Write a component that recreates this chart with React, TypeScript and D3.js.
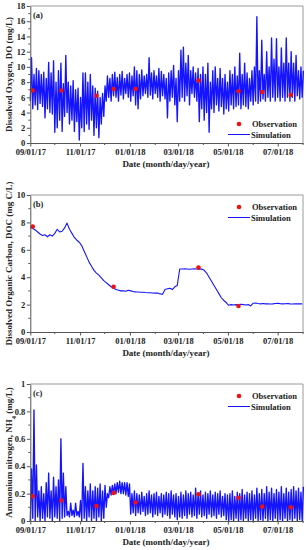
import { useEffect, useRef } from 'react';
import * as d3 from 'd3';

const START = Date.UTC(2017, 8, 1);
const END = Date.UTC(2018, 7, 1);
const DAY = 86400000;

// simulation sampled every 3 days (low / high of the hourly output)
const simDays = d3.range(0, 334, 3);

const doLow = [5.5, 4.5, 5.0, 4.4, 5.2, 4.8, 3.3, 4.5, 4.0, 3.8, 1.4, 2.0, 3.0, 1.5, 3.5, 4.0, 2.5, 3.0, 1.5, 2.8,
    0.4, 2.0, 1.5, 2.5, 1.8, 3.0, 1.0, 2.0, 0.7, 2.5, 3.5, 5.5, 6.0, 5.5, 6.2, 6.0, 5.5, 6.3, 5.8, 6.5,
    6.0, 5.5, 6.2, 5.0, 4.5, 5.8, 6.2, 6.5, 6.0, 6.3, 5.8, 6.5, 6.0, 5.5, 6.2, 5.8, 3.3, 5.5, 6.0, 5.0,
    2.8, 5.5, 6.0, 5.5, 6.2, 5.0, 6.5, 6.0, 5.5, 2.8, 4.5, 3.0, 4.0, 1.4, 4.5, 4.0, 5.0, 4.2, 4.8, 3.8,
    4.5, 4.2, 5.0, 4.5, 4.8, 5.0, 4.5, 5.0, 4.8, 4.5, 5.5, 5.0, 5.5, 5.2, 5.5, 5.8, 5.5, 6.0, 5.5, 6.0,
    5.5, 6.0, 5.5, 6.0, 5.5, 6.0, 5.5, 6.0, 5.5, 6.2, 5.8, 6.0];
const doHigh = [11.2, 9.0, 9.8, 9.5, 9.0, 9.3, 8.5, 10.6, 9.2, 10.8, 8.0, 9.5, 10.5, 7.8, 11.5, 8.0, 7.5, 8.2, 7.0, 7.2,
    6.0, 9.2, 9.2, 8.0, 9.0, 7.5, 7.2, 6.8, 6.0, 6.5, 7.5, 8.8, 8.5, 9.0, 9.3, 8.6, 9.0, 9.4, 8.5, 9.0,
    9.2, 8.8, 10.0, 9.5, 9.0, 9.6, 8.8, 9.0, 11.2, 9.2, 9.5, 8.8, 9.8, 9.4, 9.0, 8.5, 9.2, 9.5, 10.2, 8.5,
    9.5, 12.2, 12.6, 10.5, 11.5, 9.5, 10.0, 9.2, 9.8, 9.0, 10.0, 9.0, 10.5, 8.0, 9.5, 10.0, 8.5, 9.8, 8.5, 9.0,
    8.0, 9.5, 9.0, 10.0, 8.8, 11.8, 9.0, 10.5, 9.2, 8.5, 9.5, 10.0, 16.6, 9.5, 13.5, 9.0, 12.0, 10.0, 13.8, 11.0,
    13.7, 10.0, 12.5, 10.5, 13.8, 10.5, 12.0, 10.5, 11.5, 9.5, 10.0, 9.5];

const docSim = [7.65, 7.55, 7.45, 7.3, 7.15, 7.05, 7.1, 6.95, 7.1, 7.0, 7.2, 7.5, 7.3, 7.35, 7.6, 7.95, 7.5, 7.2, 6.9, 6.7,
    6.55, 6.3, 5.9, 5.5, 5.1, 4.8, 4.5, 4.3, 4.15, 3.95, 3.75, 3.6, 3.45, 3.3, 3.2, 3.1, 3.05, 3.0, 3.0, 2.98,
    3.05, 3.0, 2.95, 2.93, 2.92, 2.9, 2.9, 2.88, 2.87, 2.86, 2.85, 2.84, 2.85, 2.78, 2.75, 3.1, 3.15, 3.2, 3.1, 3.3,
    3.4, 4.6, 4.6, 4.62, 4.6, 4.58, 4.6, 4.62, 4.6, 4.58, 4.6, 4.5, 4.3, 4.0, 3.7, 3.4, 3.1, 2.8, 2.5, 2.3,
    2.15, 1.95, 2.0, 1.97, 2.0, 1.98, 2.02, 2.0, 1.97, 2.0, 1.9, 2.1, 2.12, 2.08, 2.05, 2.08, 2.05, 2.06, 2.04, 2.05,
    2.08, 2.1, 2.07, 2.05, 2.06, 2.08, 2.05, 2.04, 2.06, 2.05, 2.05, 2.05];

const nh4Low = [0.0, 0.02, 0.0, 0.03, 0.0, 0.02, 0.0, 0.03, 0.02, 0.0, 0.03, 0.02, 0.0, 0.02, 0.03, 0.04, 0.03, 0.04, 0.03, 0.04,
    0.03, 0.0, 0.02, 0.0, 0.03, 0.0, 0.02, 0.0, 0.03, 0.0, 0.02, 0.1, 0.17, 0.19, 0.2, 0.2, 0.21, 0.2, 0.2, 0.19,
    0.18, 0.05, 0.06, 0.04, 0.06, 0.05, 0.07, 0.04, 0.05, 0.06, 0.03, 0.05, 0.04, 0.06, 0.03, 0.05, 0.04, 0.02, 0.05, 0.03,
    0.01, 0.03, 0.02, 0.04, 0.02, 0.05, 0.03, 0.04, 0.02, 0.05, 0.03, 0.04, 0.02, 0.05, 0.03, 0.04, 0.02, 0.05, 0.03, 0.04,
    0.01, 0.0, 0.01, 0.0, 0.02, 0.0, 0.01, 0.0, 0.02, 0.0, 0.01, 0.0, 0.02, 0.0, 0.01, 0.0, 0.02, 0.0, 0.01, 0.0,
    0.02, 0.0, 0.01, 0.0, 0.02, 0.0, 0.01, 0.0, 0.02, 0.0, 0.01, 0.0];
const nh4High = [0.38, 0.81, 0.41, 0.22, 0.25, 0.2, 0.28, 0.35, 0.22, 0.32, 0.25, 0.3, 0.6, 0.35, 0.25, 0.07, 0.13, 0.08, 0.13, 0.07,
    0.15, 0.42, 0.25, 0.22, 0.27, 0.22, 0.25, 0.24, 0.27, 0.22, 0.26, 0.2, 0.25, 0.26, 0.27, 0.28, 0.29, 0.28, 0.28, 0.28,
    0.27, 0.2, 0.22, 0.2, 0.19, 0.21, 0.18, 0.2, 0.22, 0.19, 0.2, 0.21, 0.18, 0.2, 0.19, 0.21, 0.2, 0.22, 0.19, 0.2,
    0.18, 0.21, 0.19, 0.22, 0.2, 0.21, 0.19, 0.24, 0.2, 0.22, 0.19, 0.21, 0.2, 0.22, 0.19, 0.21, 0.2, 0.22, 0.18, 0.2,
    0.19, 0.2, 0.22, 0.18, 0.21, 0.2, 0.23, 0.19, 0.21, 0.2, 0.22, 0.19, 0.24, 0.2, 0.23, 0.2, 0.25, 0.21, 0.24, 0.2,
    0.23, 0.21, 0.25, 0.2, 0.24, 0.21, 0.23, 0.25, 0.22, 0.24, 0.21, 0.25];

const obsDates = ["2017-09-04", "2017-10-09", "2017-11-21", "2017-12-12", "2018-01-08", "2018-03-26", "2018-05-14", "2018-06-12", "2018-07-17"];
const doObs = [6.9, 6.9, 6.2, 7.1, 7.1, 8.2, 6.8, 6.7, 6.3];
const docObsDates = ["2017-09-04", "2017-12-12", "2018-03-26", "2018-05-14"];
const docObs = [7.7, 3.3, 4.7, 1.9];
const nh4Obs = [0.18, 0.15, 0.11, 0.205, 0.135, 0.195, 0.17, 0.105, 0.1];

const majorMonths = ["2017-09-01", "2017-11-01", "2018-01-01", "2018-03-01", "2018-05-01", "2018-07-01"];
const minorMonths = ["2017-10-01", "2017-12-01", "2018-02-01", "2018-04-01", "2018-06-01", "2018-08-01"];
const xTickLabels = ["09/01/17", "11/01/17", "01/01/18", "03/01/18", "05/01/18", "07/01/18"];

const FONT = '"Liberation Serif", "Times New Roman", serif';
const BLUE = '#1414ff';
const LEFT = 30.3;
const RIGHT = 303;

function drawPanel(svg, p) {
    const x = d3.scaleUtc().domain([START, END]).range([LEFT, RIGHT]);
    const y = d3.scaleLinear().domain(p.domain).range([p.bottom, p.top]);
    const g = svg.append('g');

    // frame (top / right)
    g.append('path')
        .attr('d', `M${LEFT},${p.top}H${RIGHT}V${p.bottom}`)
        .attr('fill', 'none')
        .attr('stroke', '#9a9a9a')
        .attr('stroke-width', 1);

    // simulation: noisy series zig-zag between low and high, smooth one as a plain line
    let pts;
    if (p.low) {
        pts = [];
        simDays.forEach((d, i) => {
            pts.push([d, p.low[i]]);
            pts.push([d + 1.5, p.high[i]]);
        });
    } else {
        pts = simDays.map((d, i) => [d, p.sim[i]]);
    }
    const line = d3.line()
        .x(d => x(START + d[0] * DAY))
        .y(d => y(d[1]));
    g.append('path')
        .attr('d', line(pts))
        .attr('fill', 'none')
        .attr('stroke', BLUE)
        .attr('stroke-width', p.low ? 1.35 : 1.1)
        .attr('stroke-linejoin', 'round');

    // observations
    g.append('g').selectAll('circle')
        .data(p.obs)
        .join('circle')
        .attr('cx', (d, i) => x(new Date(p.obsDates[i])))
        .attr('cy', d => y(d))
        .attr('r', 2.3)
        .attr('fill', '#ee1111');

    // x axis
    const xAxis = g.append('g').attr('transform', `translate(0,${p.bottom})`)
        .call(d3.axisBottom(x)
            .tickValues(majorMonths.map(s => new Date(s)))
            .tickFormat((d, i) => xTickLabels[i])
            .tickSize(3.5)
            .tickSizeOuter(0));
    xAxis.append('g').selectAll('line')
        .data(minorMonths)
        .join('line')
        .attr('x1', d => x(new Date(d)))
        .attr('x2', d => x(new Date(d)))
        .attr('y2', 2)
        .attr('stroke', '#555');

    // y axis
    const yAxis = g.append('g').attr('transform', `translate(${LEFT},0)`)
        .call(d3.axisLeft(y)
            .tickValues(p.yTicks)
            .tickFormat(p.fmt)
            .tickSize(3.5)
            .tickSizeOuter(0));
    yAxis.append('g').selectAll('line')
        .data(p.yMinor)
        .join('line')
        .attr('y1', d => y(d))
        .attr('y2', d => y(d))
        .attr('x2', -2)
        .attr('stroke', '#555');

    [xAxis, yAxis].forEach(a => {
        a.attr('font-family', FONT).attr('font-size', 8.5).attr('font-weight', 'bold');
        a.selectAll('.domain').attr('stroke', '#555');
        a.selectAll('.tick line').attr('stroke', '#555');
        a.selectAll('.tick text').attr('fill', '#222');
    });
    xAxis.selectAll('.tick text').attr('y', 6);
    yAxis.selectAll('.tick text').attr('x', -5);

    // titles
    g.append('text')
        .attr('x', 166).attr('y', p.bottom + 24)
        .attr('text-anchor', 'middle')
        .attr('font-family', FONT).attr('font-size', 9).attr('font-weight', 'bold')
        .attr('fill', '#222')
        .text('Date (month/day/year)');

    const yt = g.append('text')
        .attr('transform', `translate(12,${(p.top + p.bottom) / 2}) rotate(-90)`)
        .attr('text-anchor', 'middle')
        .attr('font-family', FONT).attr('font-size', 9).attr('font-weight', 'bold')
        .attr('fill', '#222');
    p.yTitle.forEach(part => {
        const t = yt.append('tspan').text(part.t);
        if (part.sub) t.attr('baseline-shift', 'sub').attr('font-size', 6.5);
    });

    g.append('text')
        .attr('x', 33).attr('y', p.top + 11.5)
        .attr('font-family', FONT).attr('font-size', 8.5).attr('font-weight', 'bold')
        .attr('fill', '#222')
        .text(p.letter);

    // legend
    const lg = g.append('g').attr('font-family', FONT).attr('font-size', 8.5).attr('font-weight', 'bold').attr('fill', '#222');
    lg.append('circle').attr('cx', 239).attr('cy', p.legendY).attr('r', 2.3).attr('fill', '#ee1111');
    lg.append('text').attr('x', 252).attr('y', p.legendY + 3).text('Observation');
    lg.append('line')
        .attr('x1', 228).attr('x2', 250)
        .attr('y1', p.legendY + 10.5).attr('y2', p.legendY + 10.5)
        .attr('stroke', BLUE).attr('stroke-width', 1);
    lg.append('text').attr('x', 251).attr('y', p.legendY + 13.5).text('Simulation');
}

export default function App() {
    const ref = useRef(null);

    useEffect(() => {
        const svg = d3.select(ref.current);
        svg.selectAll('*').remove();

        drawPanel(svg, {
            top: 6, bottom: 143, domain: [0, 18],
            yTicks: d3.range(0, 19, 2), yMinor: d3.range(1, 18, 2), fmt: d3.format('d'),
            low: doLow, high: doHigh,
            obs: doObs, obsDates: obsDates,
            yTitle: [{ t: 'Dissolved Oxygen, DO (mg/L)' }],
            letter: '(a)', legendY: 124
        });
        drawPanel(svg, {
            top: 195, bottom: 332, domain: [0, 10],
            yTicks: d3.range(0, 11, 2), yMinor: d3.range(1, 10, 2), fmt: d3.format('d'),
            sim: docSim,
            obs: docObs, obsDates: docObsDates,
            yTitle: [{ t: 'Dissolved Organic Carbon, DOC (mg C/L)' }],
            letter: '(b)', legendY: 207
        });
        drawPanel(svg, {
            top: 384, bottom: 521, domain: [0, 1],
            yTicks: [0, 0.2, 0.4, 0.6, 0.8, 1], yMinor: [0.1, 0.3, 0.5, 0.7, 0.9],
            fmt: d => (d === 0 || d === 1 ? String(d) : d3.format('.1f')(d)),
            low: nh4Low, high: nh4High,
            obs: nh4Obs, obsDates: obsDates,
            yTitle: [{ t: 'Ammonium nitrogen, NH' }, { t: '4', sub: true }, { t: ' (mg/L)' }],
            letter: '(c)', legendY: 396
        });
    }, []);

    return (
        <svg ref={ref} width={306} height={550}
            style={{ position: 'absolute', left: 0, top: 0, background: '#fff' }} />
    );
}
